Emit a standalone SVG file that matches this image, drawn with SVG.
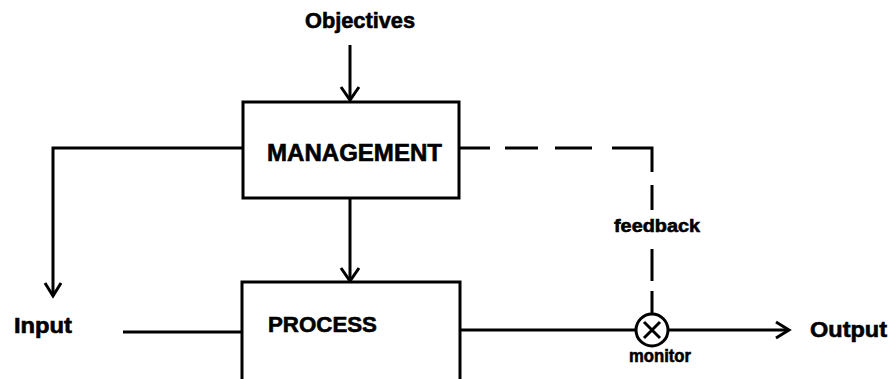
<svg xmlns="http://www.w3.org/2000/svg" width="892" height="379" viewBox="0 0 892 379">
  <style>
    .box { fill: #ffffff; stroke: #000; stroke-width: 3; }
    .line { fill: none; stroke: #000; stroke-width: 3; stroke-linecap: butt; }
    .head { fill: none; stroke: #000; stroke-width: 3; stroke-linejoin: miter; stroke-linecap: butt; }
    text { font-family: "Liberation Sans", Arial, sans-serif; font-weight: bold; fill: #000; stroke: #000; stroke-width: 0.6; }
    .big { font-size: 22px; }
    .small { font-size: 18.5px; }
  </style>
  <rect width="892" height="379" fill="#ffffff"/>

  <!-- connectors -->
  <g id="connectors">
    <!-- objectives into management -->
    <path class="line" d="M350,45 V100"/>
    <path class="head" d="M341,87 L350,100 L359,87"/>
    <!-- management to input -->
    <path class="line" d="M243,148 H53 V296"/>
    <path class="head" d="M45,283 L53,296 L61,283"/>
    <!-- management to process -->
    <path class="line" d="M350,198 V281"/>
    <path class="head" d="M341,268 L350,281 L359,268"/>
    <!-- input line into process -->
    <path class="line" d="M123,332 H242"/>
    <!-- process to monitor to output -->
    <path class="line" d="M460,330 H636"/>
    <path class="line" d="M668,330 H789"/>
    <path class="head" d="M776,322 L789,330 L776,338"/>
    <!-- dashed feedback loop -->
    <path class="line" d="M459,148 H490 M505,148 H538 M555,148 H592 M612,148 H652 V172 M652,185 V210 M652,249 V281 M652,291 V314"/>
  </g>

  <g id="objectives">
    <text x="360" y="28" text-anchor="middle" textLength="110" lengthAdjust="spacingAndGlyphs" font-size="21.5">Objectives</text>
  </g>

  <g id="management">
    <rect class="box" x="243" y="102" width="216" height="96"/>
    <text x="267" y="161" font-size="24" textLength="175" lengthAdjust="spacingAndGlyphs">MANAGEMENT</text>
  </g>

  <g id="process">
    <rect class="box" x="242" y="282" width="218" height="120"/>
    <text class="big" x="268" y="332" textLength="109" lengthAdjust="spacingAndGlyphs">PROCESS</text>
  </g>

  <g id="input">
    <text class="big" x="14" y="333" textLength="58" lengthAdjust="spacingAndGlyphs">Input</text>
  </g>

  <g id="output">
    <text class="big" x="810" y="337" textLength="77" lengthAdjust="spacingAndGlyphs">Output</text>
  </g>

  <g id="feedback">
    <text class="small" x="657" y="232" text-anchor="middle" textLength="86" lengthAdjust="spacingAndGlyphs">feedback</text>
  </g>

  <g id="monitor">
    <circle class="line" cx="652" cy="330" r="16"/>
    <path class="line" d="M644,322 L660,338 M660,322 L644,338"/>
    <text class="small" x="660" y="362" text-anchor="middle" textLength="62" lengthAdjust="spacingAndGlyphs">monitor</text>
  </g>
</svg>
